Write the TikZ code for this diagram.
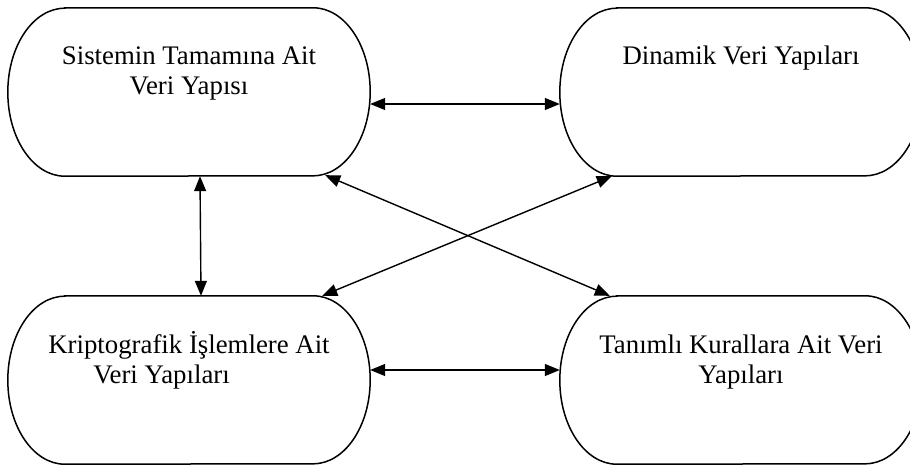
\documentclass[tikz,border=0pt]{standalone}
\usepackage{fontspec}
\setmainfont{Liberation Serif}
\usetikzlibrary{arrows.meta}

\newcommand{\capsule}[1]{%
  \draw[boxline] ([xshift=57pt]#1.north west) -- ([xshift=-57pt]#1.north east)
    arc[start angle=90,end angle=-90,x radius=57pt,y radius=84pt]
    -- ([xshift=57pt]#1.south west)
    arc[start angle=270,end angle=90,x radius=57pt,y radius=84pt] -- cycle;}

\begin{document}
\begin{tikzpicture}[x=1pt,y=1pt,
  frame/.style={rectangle,draw=none,minimum width=362pt,minimum height=168pt,inner sep=0pt},
  boxline/.style={line width=1.5pt},
  caption/.style={anchor=base,align=center,inner sep=0pt,
    font=\fontsize{26.8}{30}\selectfont},
  link/.style={line width=1.4pt,{Triangle[length=15pt,width=12pt]}-{Triangle[length=15pt,width=12pt]}}]
\useasboundingbox (0,0) rectangle (910,464);

% the four data-structure groups
\node[frame] (sys) at (189,372) {};
\node[frame] (dyn) at (741,372) {};
\node[frame] (kri) at (189,84) {};
\node[frame] (kur) at (741,84) {};
\foreach \n in {sys,dyn,kri,kur} {\capsule{\n}}

% captions (base anchor sits on the last line)
\node[caption] (sysT) at ([yshift=-87pt]sys.north) {Sistemin Tamamına Ait\\Veri Yapısı};
\node[caption] (dynT) at ([yshift=-57pt]dyn.north) {Dinamik Veri Yapıları};
\node[caption] (kriT) at ([yshift=-88pt]kri.north) {Kriptografik İşlemlere Ait\\Veri Yapıları\hspace*{55pt}};
\node[caption] (kurT) at ([yshift=-88pt]kur.north) {Tanımlı Kurallara Ait Veri\\Yapıları};

% relations between the groups
\draw[link] ([yshift=-12pt]sys.east) -- ([yshift=-12pt]dyn.west);
\draw[link] ([yshift=10pt]kri.east) -- ([yshift=10pt]kur.west);
\draw[link] ([xshift=11pt]sys.south) -- ([xshift=12pt]kri.north);
\draw[link] ([xshift=-45pt,yshift=1pt]sys.south east) -- ([xshift=50pt]kur.north west);
\draw[link] ([xshift=52pt]dyn.south west) -- ([xshift=-48pt]kri.north east);
\end{tikzpicture}
\end{document}
